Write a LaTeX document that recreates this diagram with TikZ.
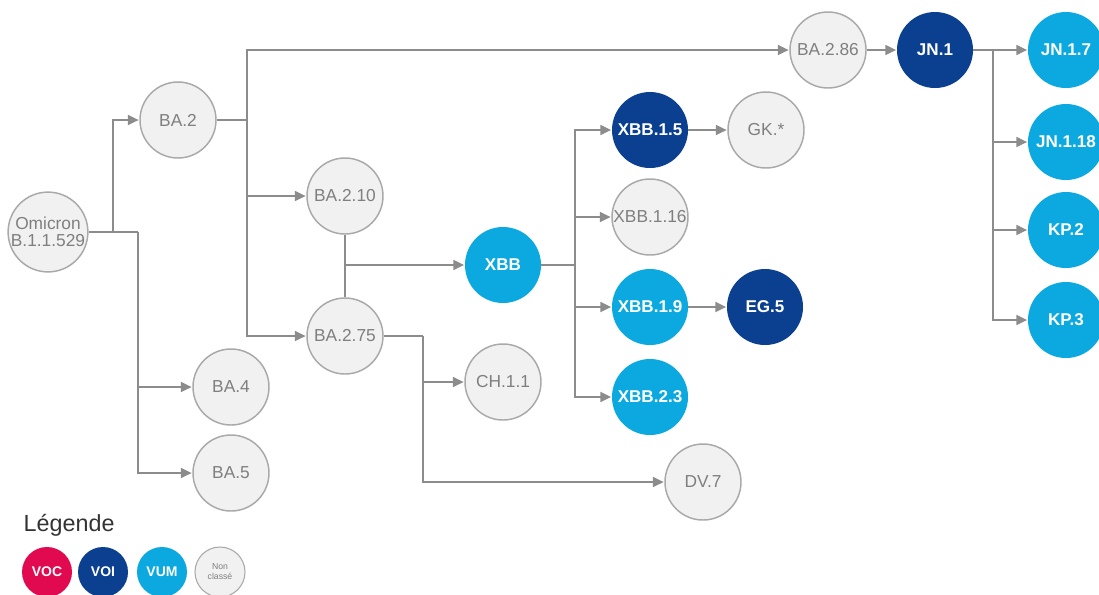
\documentclass[tikz,border=0pt]{standalone}
\usepackage{fontspec}
\setmainfont{Liberation Sans}
\usetikzlibrary{arrows.meta}

\definecolor{nodegray}{HTML}{F1F1F1}
\definecolor{rimgray}{HTML}{A9A9A9}
\definecolor{txtgray}{HTML}{7F7F7F}
\definecolor{linegray}{HTML}{8C8C8C}
\definecolor{voiblue}{HTML}{0B3F8F}
\definecolor{vumcyan}{HTML}{0BA9DF}
\definecolor{vocred}{HTML}{E1094F}
\definecolor{legtxt}{HTML}{333333}

\tikzset{
  variant/.style={circle, minimum size=57pt, inner sep=0pt,
    font=\fontsize{13}{13.5}\selectfont, align=center},
  nc/.style={variant, fill=nodegray, draw=rimgray, line width=1.1pt, text=txtgray},
  colored/.style={variant, text=white, font=\fontsize{12.8}{13.5}\selectfont\bfseries},
  voi/.style={colored, fill=voiblue},
  vum/.style={colored, fill=vumcyan},
  voc/.style={colored, fill=vocred},
  link/.style={draw=linegray, line width=1.1pt},
  arr/.style={link, -{Triangle[length=8pt, width=7.5pt]}, shorten >=0.5pt},
  legnode/.style={minimum size=37.5pt, font=\fontsize{10.5}{11}\selectfont\bfseries}
}

\begin{document}
\begin{tikzpicture}[x=0.75pt, y=-0.75pt]
  \useasboundingbox[fill=white] (0,0) rectangle (1099,594);

  % variant nodes
  \node[nc] (om) at (48,232) {Omicron\\[-1pt]B.1.1.529};
  \node[nc] (ba2) at (178,120) {BA.2};
  \node[nc] (ba4) at (231,387) {BA.4};
  \node[nc] (ba5) at (231,473) {BA.5};
  \node[nc] (ba210) at (345,196) {BA.2.10};
  \node[nc] (ba275) at (345,336) {BA.2.75};
  \node[vum] (xbb) at (503,265) {XBB};
  \node[nc] (ch11) at (503,382) {CH.1.1};
  \node[nc] (dv7) at (703,482) {DV.7};
  \node[voi] (xbb15) at (650,130) {XBB.1.5};
  \node[nc] (gk) at (766,130) {GK.*};
  \node[nc] (xbb116) at (650,217) {XBB.1.16};
  \node[vum] (xbb19) at (650,307) {XBB.1.9};
  \node[voi] (eg5) at (765,307) {EG.5};
  \node[vum] (xbb23) at (650,397) {XBB.2.3};
  \node[nc] (ba286) at (828,50) {BA.2.86};
  \node[voi] (jn1) at (935,50) {JN.1};
  \node[vum] (jn17) at (1066,50) {JN.1.7};
  \node[vum] (jn118) at (1066,142) {JN.1.18};
  \node[vum] (kp2) at (1066,230) {KP.2};
  \node[vum] (kp3) at (1066,320) {KP.3};

  % junction points of the tree
  \coordinate (jomA) at (113,232);
  \coordinate (jomB) at (138,232);
  \coordinate (jba2) at (247,120);
  \coordinate (jba2top) at (247,50);
  \coordinate (jmid) at (345,265);
  \coordinate (jba275) at (423,336);
  \coordinate (jxbb) at (575,265);
  \coordinate (jjn1) at (993,50);

  % Omicron branches
  \draw[link] (om.east |- jomA) -- (jomB);
  \draw[arr] (jomA) |- (ba2);
  \draw[arr] (jomB) |- (ba4);
  \draw[arr] (jomB) |- (ba5);

  % BA.2 branches
  \draw[link] (ba2) -- (jba2);
  \draw[arr] (jba2) -- (jba2top) -- (ba286);
  \draw[arr] (jba2) |- (ba210);
  \draw[arr] (jba2) |- (ba275);

  % BA.2.10 / BA.2.75 recombine into XBB
  \draw[link] (ba210) -- (ba275);
  \draw[arr] (jmid) -- (xbb);

  % BA.2.75 branches
  \draw[link] (ba275) -- (jba275);
  \draw[arr] (jba275) |- (ch11);
  \draw[arr] (jba275) |- (dv7);

  % XBB branches
  \draw[link] (xbb) -- (jxbb);
  \draw[arr] (jxbb) |- (xbb15);
  \draw[arr] (jxbb) |- (xbb116);
  \draw[arr] (jxbb) |- (xbb19);
  \draw[arr] (jxbb) |- (xbb23);
  \draw[arr] (xbb15) -- (gk);
  \draw[arr] (xbb19) -- (eg5);

  % BA.2.86 lineage
  \draw[arr] (ba286) -- (jn1);
  \draw[arr] (jn1) -- (jn17);
  \draw[arr] (jjn1) |- (jn118);
  \draw[arr] (jjn1) |- (kp2);
  \draw[arr] (jjn1) |- (kp3);

  % legend
  \node[anchor=west, text=legtxt, font=\fontsize{17.5}{19}\selectfont] (legtitle) at (19,525) {Légende};
  \node[voc, legnode] (lvoc) at (47,572) {VOC};
  \node[voi, legnode] (lvoi) at (103,572) {VOI};
  \node[vum, legnode] (lvum) at (162,572) {VUM};
  \node[nc, legnode, line width=0.8pt, font=\fontsize{6.5}{7.5}\selectfont] (lnc) at (220,572) {Non\\classé};
\end{tikzpicture}
\end{document}
